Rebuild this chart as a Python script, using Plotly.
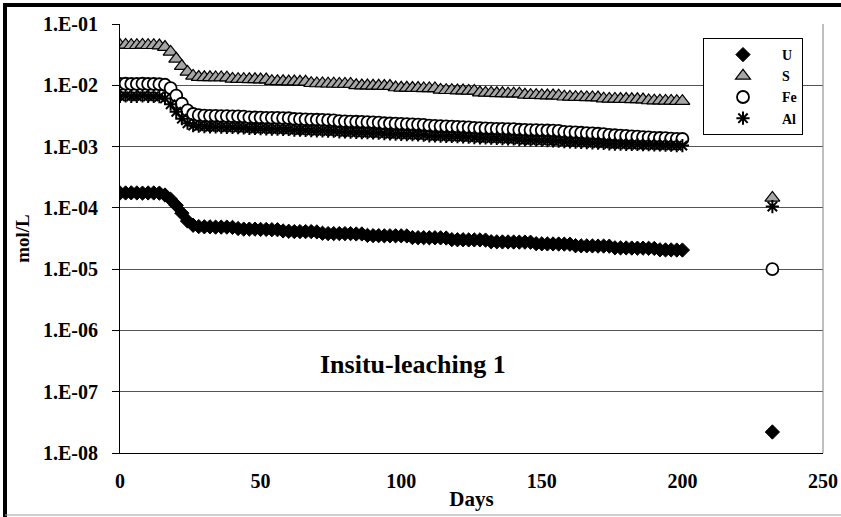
import plotly.graph_objects as go

# ---------------- data ----------------
days = [0, 2, 4, 6, 8, 10, 12, 14,
        16, 18, 20, 22, 24, 26,
        28, 30, 32, 34, 36, 38, 40,
        42, 44, 46, 48, 50, 52, 54, 56,
        58, 60, 62, 64, 66, 68, 70,
        72, 74, 76, 78, 80, 82, 84, 86,
        88, 90, 92, 94, 96, 98, 100, 102,
        104, 106, 108, 110, 112, 114, 116,
        118, 120, 122, 124, 126, 128, 130,
        132, 134, 136, 138, 140, 142, 144, 146,
        148, 150, 152, 154, 156, 158, 160,
        162, 164, 166, 168, 170, 172, 174,
        176, 178, 180, 182, 184, 186, 188, 190,
        192, 194, 196, 198, 200,
        232]

U = [1.75e-4, 1.75e-4, 1.76e-4, 1.75e-4, 1.74e-4, 1.75e-4, 1.75e-4, 1.74e-4,
     1.62e-4, 1.38e-4, 1.10e-4, 8.2e-5, 6.1e-5, 5.2e-5,
     4.95e-5, 4.9e-5, 4.9e-5, 4.85e-5, 4.85e-5, 4.85e-5, 4.8e-5,
     4.6e-5, 4.5e-5, 4.5e-5, 4.5e-5, 4.45e-5, 4.45e-5, 4.4e-5, 4.4e-5,
     4.2e-5, 4.15e-5, 4.1e-5, 4.1e-5, 4.1e-5, 4.1e-5, 4.05e-5,
     3.85e-5, 3.8e-5, 3.8e-5, 3.8e-5, 3.8e-5, 3.8e-5, 3.75e-5, 3.75e-5,
     3.55e-5, 3.52e-5, 3.52e-5, 3.5e-5, 3.5e-5, 3.5e-5, 3.5e-5, 3.48e-5,
     3.28e-5, 3.26e-5, 3.26e-5, 3.25e-5, 3.25e-5, 3.24e-5, 3.22e-5,
     3.03e-5, 3.02e-5, 3.02e-5, 3.0e-5, 3.0e-5, 3.0e-5, 2.98e-5,
     2.8e-5, 2.79e-5, 2.78e-5, 2.78e-5, 2.77e-5, 2.76e-5, 2.76e-5, 2.75e-5,
     2.6e-5, 2.59e-5, 2.58e-5, 2.58e-5, 2.57e-5, 2.56e-5, 2.55e-5,
     2.41e-5, 2.4e-5, 2.4e-5, 2.39e-5, 2.38e-5, 2.38e-5, 2.37e-5,
     2.23e-5, 2.22e-5, 2.22e-5, 2.21e-5, 2.2e-5, 2.2e-5, 2.19e-5, 2.18e-5,
     2.07e-5, 2.06e-5, 2.06e-5, 2.05e-5, 2.05e-5,
     2.2e-8]

S = [4.5e-2, 4.55e-2, 4.5e-2, 4.5e-2, 4.55e-2, 4.5e-2, 4.5e-2, 4.45e-2,
     4.2e-2, 3.5e-2, 2.7e-2, 2.05e-2, 1.65e-2, 1.42e-2,
     1.36e-2, 1.35e-2, 1.35e-2, 1.34e-2, 1.34e-2, 1.33e-2, 1.27e-2,
     1.26e-2, 1.26e-2, 1.25e-2, 1.25e-2, 1.24e-2, 1.24e-2, 1.17e-2, 1.16e-2,
     1.16e-2, 1.15e-2, 1.15e-2, 1.14e-2, 1.14e-2, 1.08e-2, 1.07e-2,
     1.07e-2, 1.06e-2, 1.06e-2, 1.05e-2, 1.05e-2, 1.05e-2, 1.0e-2, 9.9e-3,
     9.9e-3, 9.8e-3, 9.8e-3, 9.7e-3, 9.7e-3, 9.2e-3, 9.1e-3, 9.1e-3,
     9.0e-3, 9.0e-3, 8.9e-3, 8.9e-3, 8.9e-3, 8.4e-3, 8.3e-3,
     8.3e-3, 8.2e-3, 8.2e-3, 8.1e-3, 8.1e-3, 7.6e-3, 7.5e-3,
     7.5e-3, 7.4e-3, 7.4e-3, 7.3e-3, 7.3e-3, 7.3e-3, 7.0e-3, 6.9e-3,
     6.9e-3, 6.85e-3, 6.8e-3, 6.8e-3, 6.75e-3, 6.5e-3, 6.45e-3,
     6.4e-3, 6.4e-3, 6.35e-3, 6.35e-3, 6.3e-3, 6.05e-3, 6.0e-3,
     6.0e-3, 5.95e-3, 5.95e-3, 5.9e-3, 5.9e-3, 5.85e-3, 5.65e-3, 5.6e-3,
     5.6e-3, 5.55e-3, 5.55e-3, 5.5e-3, 5.5e-3,
     1.45e-4]

Fe = [1.05e-2, 1.06e-2, 1.05e-2, 1.05e-2, 1.06e-2, 1.05e-2, 1.05e-2, 1.04e-2,
      1.02e-2, 9.0e-3, 6.8e-3, 5.0e-3, 3.9e-3, 3.4e-3,
      3.25e-3, 3.2e-3, 3.18e-3, 3.16e-3, 3.15e-3, 3.13e-3, 3.12e-3,
      3.1e-3, 3.08e-3, 3.0e-3, 2.98e-3, 2.97e-3, 2.95e-3, 2.94e-3, 2.93e-3,
      2.92e-3, 2.9e-3, 2.82e-3, 2.8e-3, 2.78e-3, 2.76e-3, 2.74e-3,
      2.72e-3, 2.7e-3, 2.68e-3, 2.6e-3, 2.58e-3, 2.56e-3, 2.54e-3, 2.52e-3,
      2.5e-3, 2.48e-3, 2.46e-3, 2.4e-3, 2.38e-3, 2.36e-3, 2.34e-3, 2.32e-3,
      2.3e-3, 2.28e-3, 2.26e-3, 2.2e-3, 2.18e-3, 2.16e-3, 2.14e-3,
      2.12e-3, 2.1e-3, 2.08e-3, 2.06e-3, 2.02e-3, 2.0e-3, 1.98e-3,
      1.96e-3, 1.95e-3, 1.94e-3, 1.93e-3, 1.92e-3, 1.88e-3, 1.87e-3, 1.86e-3,
      1.85e-3, 1.84e-3, 1.83e-3, 1.82e-3, 1.8e-3, 1.74e-3, 1.72e-3,
      1.7e-3, 1.68e-3, 1.66e-3, 1.64e-3, 1.62e-3, 1.6e-3, 1.55e-3,
      1.53e-3, 1.51e-3, 1.49e-3, 1.47e-3, 1.45e-3, 1.43e-3, 1.41e-3, 1.39e-3,
      1.38e-3, 1.37e-3, 1.35e-3, 1.34e-3, 1.33e-3,
      1.0e-5]

Al = [6.6e-3, 6.7e-3, 6.6e-3, 6.6e-3, 6.7e-3, 6.6e-3, 6.6e-3, 6.5e-3,
      6.1e-3, 4.9e-3, 3.7e-3, 2.85e-3, 2.4e-3, 2.2e-3,
      2.15e-3, 2.12e-3, 2.1e-3, 2.09e-3, 2.08e-3, 2.06e-3, 2.05e-3,
      2.03e-3, 2.02e-3, 1.98e-3, 1.97e-3, 1.96e-3, 1.95e-3, 1.93e-3, 1.92e-3,
      1.91e-3, 1.9e-3, 1.86e-3, 1.85e-3, 1.84e-3, 1.82e-3, 1.81e-3,
      1.8e-3, 1.79e-3, 1.78e-3, 1.74e-3, 1.73e-3, 1.72e-3, 1.7e-3, 1.69e-3,
      1.68e-3, 1.67e-3, 1.66e-3, 1.62e-3, 1.61e-3, 1.6e-3, 1.58e-3, 1.57e-3,
      1.56e-3, 1.55e-3, 1.54e-3, 1.5e-3, 1.49e-3, 1.48e-3, 1.47e-3,
      1.46e-3, 1.45e-3, 1.44e-3, 1.43e-3, 1.4e-3, 1.39e-3, 1.38e-3,
      1.37e-3, 1.36e-3, 1.35e-3, 1.34e-3, 1.33e-3, 1.3e-3, 1.29e-3, 1.28e-3,
      1.27e-3, 1.26e-3, 1.25e-3, 1.24e-3, 1.23e-3, 1.2e-3, 1.19e-3,
      1.18e-3, 1.17e-3, 1.16e-3, 1.15e-3, 1.14e-3, 1.13e-3, 1.11e-3,
      1.1e-3, 1.1e-3, 1.09e-3, 1.08e-3, 1.08e-3, 1.07e-3, 1.07e-3, 1.06e-3,
      1.06e-3, 1.05e-3, 1.05e-3, 1.04e-3, 1.04e-3,
      1.05e-4]

series_names = ["U", "S", "Fe", "Al"]
y_tick_values = [1e-8, 1e-7, 1e-6, 1e-5, 1e-4, 1e-3, 1e-2, 1e-1]
y_tick_labels = ["1.E-08", "1.E-07", "1.E-06", "1.E-05",
                 "1.E-04", "1.E-03", "1.E-02", "1.E-01"]
x_tick_values = [0, 50, 100, 150, 200, 250]
chart_label = "Insitu-leaching 1"

# ---------------- styling ----------------
FONT = "Liberation Serif, Times New Roman, serif"
W, H = 841, 517
L, R, T, B = 120, 18, 24, 64
pw, ph = W - L - R, H - T - B


def px_x(px):
    return (px - L) / pw


def px_y(py):
    return (H - B - py) / ph


styles = {
    "U": dict(symbol="diamond", size=11, color="black",
              line=dict(color="black", width=1)),
    "S": dict(symbol="triangle-up", size=13, color="#a6a6a6",
              line=dict(color="black", width=1.2)),
    "Fe": dict(symbol="circle", size=12, color="white",
               line=dict(color="black", width=1.8)),
    "Al": dict(symbol="asterisk-open", size=11, color="black",
               line=dict(color="black", width=2)),
}

fig = go.Figure()
for name, vals in zip(series_names, [U, S, Fe, Al]):
    fig.add_trace(go.Scatter(x=days, y=vals, mode="markers", name=name,
                             marker=styles[name]))

bold = dict(family=FONT, color="black", weight="bold")

fig.update_layout(
    width=W, height=H,
    margin=dict(l=L, r=R, t=T, b=B, autoexpand=False),
    paper_bgcolor="white", plot_bgcolor="white",
    showlegend=True,
    legend=dict(x=px_x(703), y=px_y(38), xanchor="left", yanchor="top",
                bgcolor="white", bordercolor="black", borderwidth=1,
                font=dict(size=14, **bold), itemwidth=68,
                entrywidth=110, tracegroupgap=0),
    xaxis=dict(range=[0, 250], tickvals=x_tick_values, ticks="",
               showgrid=False, zeroline=False, showline=True,
               linecolor="black", linewidth=1,
               tickfont=dict(size=20, **bold), ticklabelstandoff=10,
               title=dict(text="Days", font=dict(size=21, **bold),
                          standoff=0)),
    xaxis2=dict(range=[0, 250], tickvals=x_tick_values, overlaying="x",
                side="top", ticks="inside", ticklen=6, tickcolor="black",
                showticklabels=False, showgrid=False, zeroline=False,
                showline=True, linecolor="black", linewidth=1,
                anchor="y"),
    yaxis=dict(type="log", range=[-8, -1], tickvals=y_tick_values,
               ticktext=y_tick_labels, ticks="outside", ticklen=7,
               tickcolor="black", showgrid=True, gridcolor="#555555",
               gridwidth=1, zeroline=False, showline=True,
               linecolor="black", linewidth=1,
               tickfont=dict(size=20, **bold), ticklabelstandoff=10,
               title=dict(text="mol/L", font=dict(size=19, **bold),
                          standoff=8)),
    annotations=[dict(text=chart_label, x=px_x(413), y=px_y(364),
                      xref="paper", yref="paper", showarrow=False,
                      xanchor="center", yanchor="middle",
                      font=dict(size=26, **bold))],
    shapes=[
        # right border of the plot area (grey)
        dict(type="line", xref="paper", yref="paper", x0=1, x1=1,
             y0=0, y1=1, line=dict(color="#808080", width=1)),
        # outer chart frame: heavy black top & left, thin grey bottom
        dict(type="line", xref="paper", yref="paper", x0=px_x(3),
             x1=px_x(841), y0=px_y(5), y1=px_y(5),
             line=dict(color="black", width=4)),
        dict(type="line", xref="paper", yref="paper", x0=px_x(5),
             x1=px_x(5), y0=px_y(3), y1=px_y(517),
             line=dict(color="black", width=4)),
        dict(type="line", xref="paper", yref="paper", x0=px_x(5),
             x1=px_x(841), y0=px_y(515), y1=px_y(515),
             line=dict(color="#a0a0a0", width=1)),
    ],
)

fig.write_html("out.html",
               config={"displayModeBar": False},
               post_script="document.body.style.margin='0';"
                           "document.body.style.overflow='hidden';")
